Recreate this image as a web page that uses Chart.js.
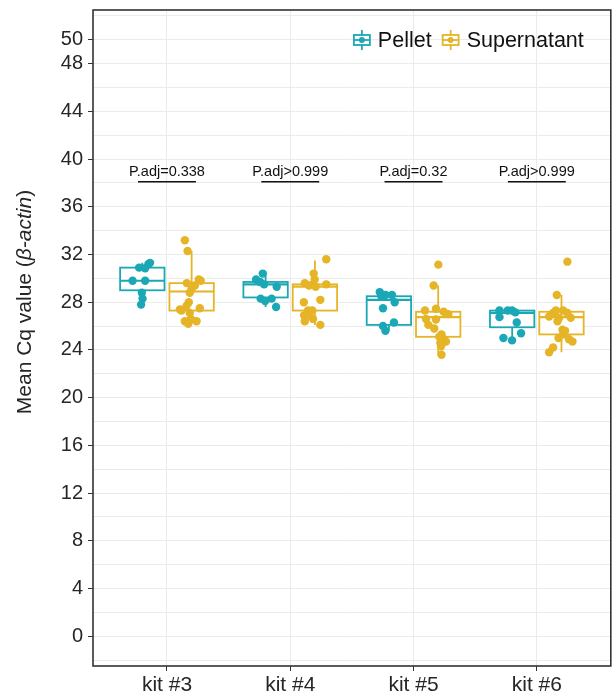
<!DOCTYPE html>
<html><head><meta charset="utf-8">
<script src="https://cdn.jsdelivr.net/npm/chart.js@4/dist/chart.umd.min.js"></script>
<style>html,body{margin:0;padding:0;background:#fff}</style>
</head><body>
<canvas id="c" width="615" height="697" style="width:615px;height:697px;display:block"></canvas>
<script>
// ---------- data ----------
const categories = ['kit #3', 'kit #4', 'kit #5', 'kit #6'];
const seriesNames = ['Pellet', 'Supernatant'];
const yTickValues = [0, 4, 8, 12, 16, 20, 24, 28, 32, 36, 40, 44, 48, 50];
const yMinorGrid = [-2, 2, 6, 10, 14, 18, 22, 26, 30, 34, 38, 42, 46, 52];
const pAdjLabels = ['P.adj=0.338', 'P.adj>0.999', 'P.adj=0.32', 'P.adj>0.999'];
const pAdjTextY = 38.95;
const pAdjLineY = 38.1;

// box stats per kit: [lower whisker, Q1, median, Q3, upper whisker]
const pelletBox = [[27.8, 29.0, 29.8, 30.9, 31.3], [27.6, 28.4, 29.5, 29.7, 30.4], [25.6, 26.1, 28.2, 28.5, 28.85], [24.85, 25.9, 27.1, 27.3, 27.4]];
const supernatantBox = [[26.2, 27.3, 28.9, 29.6, 32.3], [26.1, 27.3, 29.3, 29.5, 31.5], [23.6, 25.1, 26.75, 27.2, 29.4], [23.8, 25.3, 26.75, 27.2, 28.6]];

// individual samples per kit (values) and their horizontal jitter (category units)
const pelletValues = [
  [30.9, 30.85, 31.2, 31.3, 29.8, 29.8, 28.8, 28.3, 27.8],
  [30.4, 29.9, 29.7, 29.5, 29.3, 28.3, 28.1, 28.3, 27.6],
  [28.85, 28.6, 28.6, 28.0, 27.5, 26.3, 26.0, 25.6, 28.5],
  [27.3, 26.75, 27.3, 27.3, 27.15, 26.3, 25.4, 25.0, 24.8]
];
const pelletJitter = [
  [-0.026, 0.023, 0.05, 0.063, -0.079, 0.023, -0.004, 0.002, -0.01],
  [-0.023, -0.077, -0.044, -0.012, 0.09, -0.04, -0.004, 0.049, 0.085],
  [-0.074, -0.028, 0.025, 0.047, -0.048, 0.041, -0.048, -0.028, -0.061],
  [-0.103, -0.103, -0.036, -0.001, 0.026, 0.037, 0.072, -0.071, -0.001]
];
const supernatantValues = [
  [33.2, 32.3, 29.6, 29.9, 29.8, 29.4, 29.1, 28.8, 28.0, 27.7, 27.4, 27.3, 27.5, 27.1, 26.6, 26.4, 26.4, 26.2],
  [31.6, 30.4, 29.9, 29.6, 29.5, 29.4, 29.5, 29.3, 28.0, 28.2, 27.3, 27.3, 26.9, 26.6, 26.4, 26.1, 26.9],
  [31.15, 29.4, 27.45, 27.3, 27.2, 27.0, 26.6, 26.55, 26.1, 25.8, 25.3, 24.9, 24.7, 24.6, 24.3, 23.6, 25.1],
  [31.4, 28.6, 27.3, 27.3, 27.1, 27.1, 26.8, 26.7, 26.7, 26.4, 25.7, 25.3, 25.0, 24.9, 24.7, 24.2, 23.8, 25.6]
];
const supernatantJitter = [
  [-0.055, -0.033, -0.039, 0.058, 0.074, 0.026, 0, -0.015, -0.023, -0.041, -0.095, -0.082, 0.066, -0.015, -0.006, -0.055, 0.04, -0.027],
  [0.092, -0.01, -0.002, -0.082, -0.015, -0.048, 0.092, 0.006, -0.09, 0.044, -0.056, -0.021, -0.088, -0.015, -0.082, 0.044, -0.048],
  [0.001, -0.037, -0.018, -0.107, 0.044, 0.082, -0.099, -0.018, -0.08, -0.032, 0.027, 0.044, 0.063, 0.017, 0.023, 0.027, 0.009],
  [0.048, -0.038, -0.046, 0.013, -0.068, 0.048, -0.1, -0.019, 0.075, -0.032, 0.008, 0.013, -0.024, 0.061, 0.089, -0.068, -0.1, 0.029]
];

// ---------- styling ----------
const COLORS = ['#1AA8B6', '#E5B427'];
const FONT = '"Liberation Sans", Arial, Helvetica, sans-serif';
const TEXT = '#262626';
const GRID = '#EBEBEB';
const DODGE = 0.2;
const BOX_W = 0.36;

function pointsFor(values, jitter, offset) {
  const out = [];
  values.forEach((arr, k) => arr.forEach((v, j) => out.push({x: k + 1 + offset + jitter[k][j], y: v})));
  return out;
}

function drawLegendIcon(g, x, y, color) {
  // x,y = centre of a 16x20 glyph
  g.save();
  g.strokeStyle = color; g.lineWidth = 1.8;
  g.beginPath(); g.moveTo(x, y - 10); g.lineTo(x, y - 5); g.moveTo(x, y + 5); g.lineTo(x, y + 10); g.stroke();
  g.fillStyle = '#fff'; g.fillRect(x - 8, y - 5, 16, 10);
  g.strokeRect(x - 8, y - 5, 16, 10);
  g.beginPath(); g.moveTo(x - 8, y); g.lineTo(x + 8, y); g.stroke();
  g.fillStyle = color; g.beginPath(); g.arc(x, y, 3, 0, Math.PI * 2); g.fill();
  g.restore();
}

const boxPlugin = {
  id: 'boxes',
  beforeDatasetsDraw(chart) {
    const {ctx, scales: {x, y}} = chart;
    [[pelletBox, -DODGE, COLORS[0]], [supernatantBox, DODGE, COLORS[1]]].forEach(([stats, off, col]) => {
      stats.forEach((s, i) => {
        const cx = i + 1 + off;
        const xl = x.getPixelForValue(cx - BOX_W / 2), xr = x.getPixelForValue(cx + BOX_W / 2), xc = x.getPixelForValue(cx);
        const [lo, q1, md, q3, hi] = s.map(v => y.getPixelForValue(v));
        ctx.save();
        ctx.strokeStyle = col; ctx.lineWidth = 1.8;
        ctx.beginPath(); ctx.moveTo(xc, hi); ctx.lineTo(xc, q3); ctx.moveTo(xc, q1); ctx.lineTo(xc, lo); ctx.stroke();
        ctx.fillStyle = '#fff';
        ctx.fillRect(xl, q3, xr - xl, q1 - q3);
        ctx.strokeRect(xl, q3, xr - xl, q1 - q3);
        ctx.lineWidth = 2.2;
        ctx.beginPath(); ctx.moveTo(xl, md); ctx.lineTo(xr, md); ctx.stroke();
        ctx.restore();
      });
    });
  },
  afterDatasetsDraw(chart) {
    const {ctx, chartArea: a, scales: {x, y}} = chart;
    ctx.save();
    // p-value annotations
    ctx.fillStyle = '#111'; ctx.strokeStyle = '#111'; ctx.lineWidth = 1.6;
    ctx.font = '14.5px ' + FONT; ctx.textAlign = 'center'; ctx.textBaseline = 'middle';
    pAdjLabels.forEach((t, i) => {
      ctx.fillText(t, x.getPixelForValue(i + 1), y.getPixelForValue(pAdjTextY));
      const ly = y.getPixelForValue(pAdjLineY);
      ctx.beginPath(); ctx.moveTo(x.getPixelForValue(i + 1 - 0.235), ly); ctx.lineTo(x.getPixelForValue(i + 1 + 0.235), ly); ctx.stroke();
    });
    // legend (inside the panel, top right)
    ctx.font = '21.5px ' + FONT; ctx.textAlign = 'left'; ctx.fillStyle = '#111';
    const w0 = ctx.measureText(seriesNames[0]).width, w1 = ctx.measureText(seriesNames[1]).width;
    const ly = a.top + 30;
    let xr = a.right - 27 - w1;
    ctx.fillText(seriesNames[1], xr, ly + 1);
    drawLegendIcon(ctx, xr - 16, ly, COLORS[1]);
    let xp = xr - 24 - 11 - w0;
    ctx.fillStyle = '#111';
    ctx.fillText(seriesNames[0], xp, ly + 1);
    drawLegendIcon(ctx, xp - 16, ly, COLORS[0]);
    // panel border
    ctx.strokeStyle = '#333'; ctx.lineWidth = 1.6;
    ctx.strokeRect(a.left, a.top, a.right - a.left, a.bottom - a.top);
    ctx.restore();
  },
  afterDraw(chart) {
    // y-axis title with italic gene name
    const {ctx} = chart;
    const parts = [['Mean Cq value (', 'normal'], ['\u03B2-actin', 'italic'], [')', 'normal']];
    const size = 21;
    ctx.save();
    let total = 0;
    const widths = parts.map(([t, st]) => { ctx.font = st + ' ' + size + 'px ' + FONT; const w = ctx.measureText(t).width; total += w; return w; });
    ctx.translate(25, 302);
    ctx.rotate(-Math.PI / 2);
    ctx.fillStyle = TEXT; ctx.textBaseline = 'middle'; ctx.textAlign = 'left';
    let cx = -total / 2;
    parts.forEach(([t, st], i) => { ctx.font = st + ' ' + size + 'px ' + FONT; ctx.fillText(t, cx, 0); cx += widths[i]; });
    ctx.restore();
  }
};

new Chart(document.getElementById('c'), {
  type: 'scatter',
  data: {
    datasets: [
      {label: seriesNames[0], data: pointsFor(pelletValues, pelletJitter, -DODGE), backgroundColor: COLORS[0], borderWidth: 0, pointRadius: 4.2, pointHoverRadius: 4.2},
      {label: seriesNames[1], data: pointsFor(supernatantValues, supernatantJitter, DODGE), backgroundColor: COLORS[1], borderWidth: 0, pointRadius: 4.2, pointHoverRadius: 4.2}
    ]
  },
  options: {
    responsive: false,
    animation: false,
    devicePixelRatio: 1,
    layout: {padding: {left: 0, right: 2, top: 10, bottom: 0}},
    scales: {
      x: {
        type: 'linear', min: 0.4, max: 4.6,
        afterBuildTicks: s => { s.ticks = categories.map((c, i) => ({value: i + 1})); },
        afterFit: s => { s.height = 31; s.paddingLeft = 0; s.paddingRight = 0; },
        ticks: {callback: v => categories[v - 1], font: {size: 21, family: FONT}, color: TEXT, padding: 2, maxRotation: 0, autoSkip: false},
        grid: {color: GRID, lineWidth: 1, tickColor: '#333', tickLength: 5},
        border: {display: false}
      },
      yMinor: {
        type: 'linear', position: 'left', min: -2.5, max: 52.5,
        afterBuildTicks: s => { s.ticks = yMinorGrid.map(v => ({value: v})); },
        afterFit: s => { s.width = 0; s.paddingTop = 0; s.paddingBottom = 0; },
        ticks: {display: false},
        grid: {color: GRID, lineWidth: 1, drawTicks: false},
        border: {display: false}
      },
      y: {
        type: 'linear', position: 'left', min: -2.5, max: 52.5,
        afterBuildTicks: s => { s.ticks = yTickValues.map(v => ({value: v})); },
        afterFit: s => { s.width = 93; s.paddingTop = 0; s.paddingBottom = 0; },
        ticks: {font: {size: 20, family: FONT}, color: TEXT, padding: 5, autoSkip: false},
        grid: {color: GRID, lineWidth: 1, tickColor: '#333', tickLength: 5},
        border: {display: false}
      }
    },
    plugins: {
      tooltip: {enabled: false},
      legend: {display: false}
    }
  },
  plugins: [boxPlugin]
});
</script>
</body></html>
